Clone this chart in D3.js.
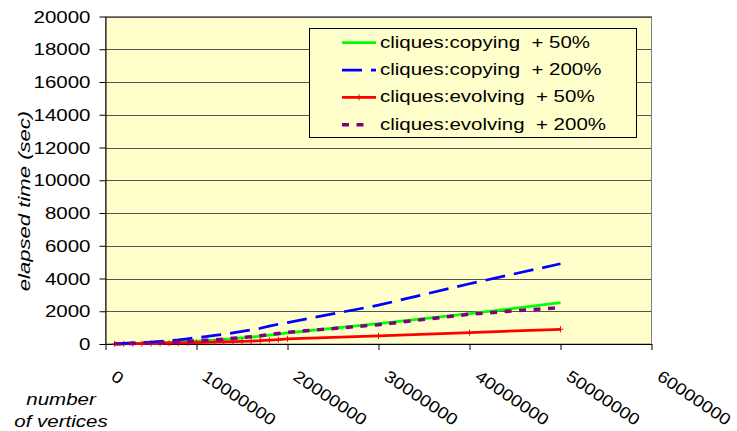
<!DOCTYPE html>
<html>
<head>
<meta charset="utf-8">
<script src="https://cdn.jsdelivr.net/npm/d3@7/dist/d3.min.js"></script>
<style>
  html, body { margin: 0; padding: 0; background: #fff; }
  svg { display: block; }
  text { font-family: "Liberation Sans", Arial, sans-serif; fill: #000; }
</style>
</head>
<body>
<svg id="chart" width="737" height="431"></svg>
<script>
// ---- data ----
const verticesM = [1,2,3,4,5,6,7,8,9,10,11,12,13,14,15,16,17,18,19,20,30,40,50]; // millions
const copying50   = [10,20,30,45,60,75,95,115,140,170,200,240,280,320,370,420,480,540,610,680,1250,1850,2520];
const copying200  = [20,40,65,90,120,160,205,255,320,390,455,525,600,680,765,855,960,1090,1210,1310,2370,3680,4900];
const evolving50  = [6,12,19,27,35,44,53,63,74,86,98,111,125,140,156,175,200,230,270,320,490,690,900];
const evolving200 = [10,22,35,50,65,85,105,130,160,190,225,260,300,345,395,450,510,570,640,710,1180,1820,2230];
const seriesNames = ["cliques:copying  + 50%", "cliques:copying  + 200%", "cliques:evolving  + 50%", "cliques:evolving  + 200%"];
const yTicks = [0,2000,4000,6000,8000,10000,12000,14000,16000,18000,20000];
const xTicks = [0,10000000,20000000,30000000,40000000,50000000,60000000];
const yTitle = "elapsed time (sec)";
const xTitle = ["number", "of vertices"];

// ---- layout ----
const L = 105.5, R = 651.5, T = 16.5, B = 344;
const x = d3.scaleLinear().domain([0, 60000000]).range([L, R]);
const y = d3.scaleLinear().domain([0, 20000]).range([B, T]);
const SX = 1.25; // horizontal text stretch seen in reference
const FS = 16.4;

const svg = d3.select("#chart");

// plot area
svg.append("rect").attr("x", L).attr("y", T).attr("width", R - L).attr("height", B - T)
  .attr("fill", "#FFFFCC").attr("stroke", "#808080").attr("stroke-width", 1);

// grid lines
svg.append("g").selectAll("line").data(yTicks.filter(d => d > 0)).join("line")
  .attr("x1", L).attr("x2", R).attr("y1", d => Math.round(y(d)) + 0.5).attr("y2", d => Math.round(y(d)) + 0.5)
  .attr("stroke", "#555").attr("stroke-width", 1);

// y axis
const yAxis = svg.append("g").attr("transform", `translate(${L},0)`)
  .call(d3.axisLeft(y).tickValues(yTicks).tickFormat(d3.format("d")).tickSize(6).tickSizeOuter(0));
yAxis.select(".domain").attr("stroke", "#000");
yAxis.selectAll(".tick line").attr("stroke", "#000");
yAxis.selectAll(".tick text")
  .attr("x", null).attr("dy", "0.35em")
  .attr("transform", `translate(-15,0) scale(${SX},1)`)
  .style("font-size", FS + "px").style("font-family", "Liberation Sans, Arial, sans-serif").attr("fill", "#000");

// x axis
const xAxis = svg.append("g").attr("transform", `translate(0,${B})`)
  .call(d3.axisBottom(x).tickValues(xTicks).tickFormat(d3.format("d")).tickSize(6).tickSizeOuter(0));
xAxis.select(".domain").attr("stroke", "#000");
xAxis.selectAll(".tick line").attr("stroke", "#000");
xAxis.selectAll(".tick text")
  .attr("y", null).attr("dy", null)
  .attr("text-anchor", "start")
  .attr("transform", `translate(4,35) rotate(34) scale(1.15,1)`)
  .style("font-size", "16.5px").style("font-family", "Liberation Sans, Arial, sans-serif").attr("fill", "#000");

// axis titles
svg.append("text")
  .attr("transform", `translate(29.5,201) rotate(-90) scale(1.3,1)`)
  .attr("text-anchor", "middle").style("font-size", "17px").style("font-style", "italic")
  .text(yTitle);
svg.append("g").selectAll("text").data(xTitle).join("text")
  .attr("transform", (d, i) => `translate(61,${405 + i * 22}) scale(${SX},1)`)
  .attr("text-anchor", "middle").style("font-size", FS + "px").style("font-style", "italic")
  .text(d => d);

// series
const styles = [
  { data: copying50,   color: "#00FF00", width: 2.75, dash: null,    marker: false },
  { data: copying200,  color: "#0000FF", width: 2.75, dash: "20,9",  marker: false },
  { data: evolving50,  color: "#FF0000", width: 2.75, dash: null,    marker: true  },
  { data: evolving200, color: "#800080", width: 3.5,  dash: "7,7.5", marker: false }
];
const line = d3.line().x(d => x(d[0] * 1e6)).y(d => y(d[1]));
const gLines = svg.append("g");
// draw order: green, red, blue, purple (purple on top)
[0, 2, 1, 3].forEach(i => {
  const s = styles[i];
  const pts = verticesM.map((v, j) => [v, s.data[j]]);
  gLines.append("path").datum(pts).attr("d", line)
    .attr("fill", "none").attr("stroke", s.color).attr("stroke-width", s.width)
    .attr("stroke-dasharray", s.dash).attr("stroke-linejoin", "round");
  if (s.marker) {
    gLines.append("g").selectAll("path").data(pts).join("path")
      .attr("d", d => { const px = x(d[0] * 1e6), py = y(d[1]); return `M${px - 3},${py}H${px + 3}M${px},${py - 3}V${py + 3}`; })
      .attr("stroke", s.color).attr("stroke-width", 1).attr("fill", "none");
  }
});

// legend
const lg = svg.append("g");
lg.append("rect").attr("x", 309.5).attr("y", 28.5).attr("width", 327).attr("height", 109)
  .attr("fill", "#FFFFCC").attr("stroke", "#000").attr("stroke-width", 1);
const rowY = [42.7, 70, 97.3, 124.7];
styles.forEach((s, i) => {
  const yy = rowY[i];
  lg.append("line").attr("x1", 342).attr("x2", i === 3 ? 366 : 376).attr("y1", yy).attr("y2", yy)
    .attr("stroke", s.color).attr("stroke-width", s.width).attr("stroke-dasharray", s.dash);
  if (s.marker) {
    lg.append("path").attr("d", `M356,${yy}H362M359,${yy - 3}V${yy + 3}`).attr("stroke", s.color).attr("stroke-width", 1);
  }
  lg.append("text").attr("transform", `translate(380,${yy + 5}) scale(${SX},1)`)
    .style("font-size", FS + "px").style("white-space", "pre").text(seriesNames[i]);
});
</script>
</body>
</html>
